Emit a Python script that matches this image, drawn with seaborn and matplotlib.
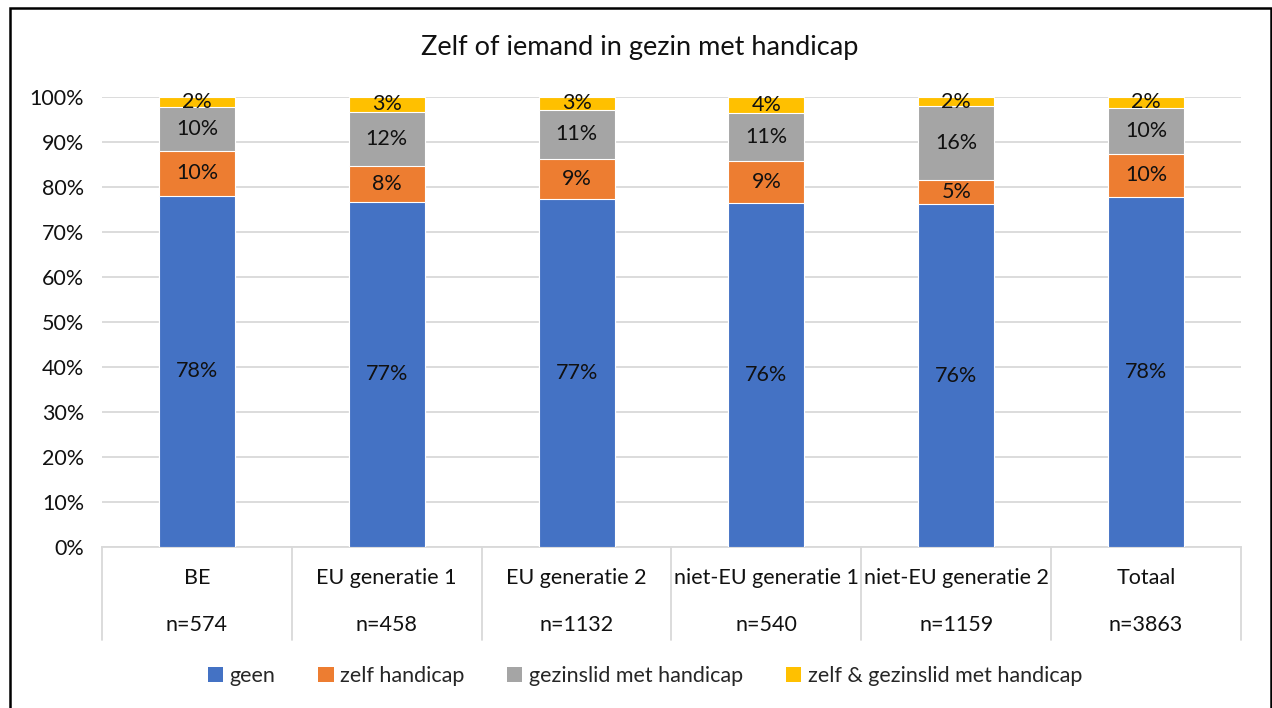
import matplotlib
matplotlib.use("Agg")
import matplotlib.pyplot as plt
import seaborn as sns
import numpy as np
import pandas as pd
from matplotlib.patches import Rectangle, Patch
from matplotlib.lines import Line2D
import matplotlib.transforms as mtransforms

sns.set_theme(style="white")
plt.rcParams['font.family'] = ['Lato', 'DejaVu Sans']

title = "Zelf of iemand in gezin met handicap"
categories = ["BE", "EU generatie 1", "EU generatie 2", "niet-EU generatie 1", "niet-EU generatie 2", "Totaal"]
n_labels = ["n=574", "n=458", "n=1132", "n=540", "n=1159", "n=3863"]
series = ["geen", "zelf handicap", "gezinslid met handicap", "zelf & gezinslid met handicap"]
geen = [78.1, 76.7, 77.3, 76.4, 76.2, 77.8]
zelf = [10.0, 7.9, 9.0, 9.4, 5.3, 9.6]
gezinslid = [9.6, 12.1, 10.9, 10.6, 16.4, 10.2]
beide = [2.3, 3.3, 2.8, 3.6, 2.1, 2.4]
colors = ["#4472C4", "#ED7D31", "#A5A5A5", "#FFC000"]
yticks = [0, 10, 20, 30, 40, 50, 60, 70, 80, 90, 100]
ytick_labels = [f"{t}%" for t in yticks]

df = pd.DataFrame({"categorie": categories, series[0]: geen, series[1]: zelf,
                   series[2]: gezinslid, series[3]: beide})
cum = df[series].cumsum(axis=1)

FS = 15.5
TXT = "#111111"

fig = plt.figure(figsize=(12.72, 7.08), dpi=100)
ax = fig.add_axes([102/1272, 1 - 547/708, (1241 - 102)/1272, (547 - 97)/708])

# stacked bars: draw cumulative totals from the top series down
for k in range(len(series) - 1, -1, -1):
    sns.barplot(x=df["categorie"], y=cum[series[k]], color=colors[k], width=0.4,
                saturation=1, ax=ax, order=categories, edgecolor="white",
                linewidth=0.8, zorder=3)

# data labels
for k, s in enumerate(series):
    vals = df[s].to_numpy()
    base = cum[s].to_numpy() - vals
    for xi, (v, b) in enumerate(zip(vals, base)):
        ax.text(xi, b + v / 2, f"{round(v):.0f}%", ha="center", va="center",
                fontsize=FS, color=TXT, zorder=4)

ax.set_xlim(-0.5, len(categories) - 0.5)
ax.set_ylim(0, 100)
ax.set_yticks(yticks)
ax.set_yticklabels(ytick_labels, fontsize=FS, color=TXT)
ax.tick_params(axis="y", length=0, pad=13)
ax.set_xticks([])
ax.set_xlabel("")
ax.set_ylabel("")
ax.grid(axis="y", color="#D9D9D9", linewidth=1.3, zorder=0)
ax.set_axisbelow(True)
for sp in ["left", "right", "top"]:
    ax.spines[sp].set_visible(False)
ax.spines["bottom"].set_color("#D9D9D9")
ax.spines["bottom"].set_linewidth(1.3)

# category separators and labels
trans = mtransforms.blended_transform_factory(ax.transData, fig.transFigure)
for i in range(len(categories) + 1):
    ax.add_line(Line2D([i - 0.5, i - 0.5], [1 - 547/708, 1 - 640/708], transform=trans,
                       color="#D9D9D9", linewidth=1.3, clip_on=False))
for i, (cat, n) in enumerate(zip(categories, n_labels)):
    ax.text(i, 1 - 578/708, cat, transform=trans, ha="center", va="center",
            fontsize=FS, color=TXT)
    ax.text(i, 1 - 625/708, n, transform=trans, ha="center", va="center",
            fontsize=FS, color=TXT)

fig.text(640/1272, 1 - 47/708, title, ha="center", va="center", fontsize=19.5, color=TXT)

handles = [Patch(facecolor=c, edgecolor="none") for c in colors]
fig.legend(handles, series, loc="center", bbox_to_anchor=(645/1272, 1 - 676/708), ncol=4,
           frameon=False, fontsize=FS, handlelength=0.7, handleheight=0.7,
           handletextpad=0.3, columnspacing=2.0)

fig.add_artist(Rectangle((10/1272, -0.02), (1271 - 10)/1272, 1.02 - 8/708,
                         transform=fig.transFigure, fill=False, edgecolor="black",
                         linewidth=1.8))

fig.savefig("out.png", dpi=100, facecolor="white")
